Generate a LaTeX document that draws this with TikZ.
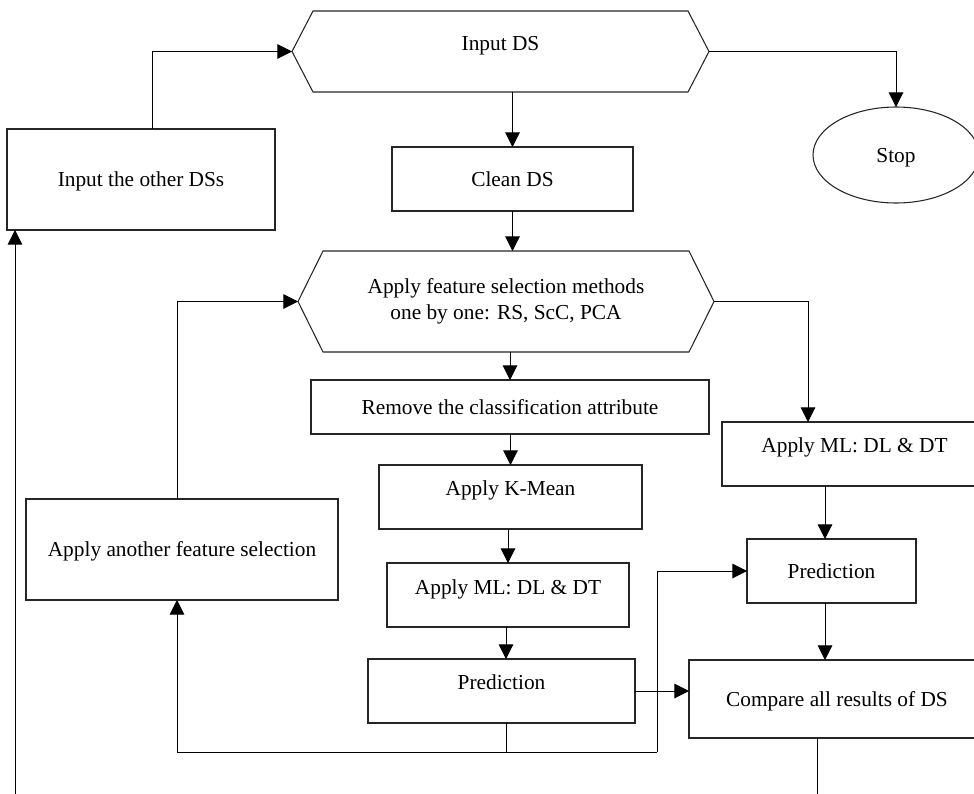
\documentclass[tikz,border=0pt]{standalone}
\usepackage{fontspec}
\setmainfont{Liberation Serif}
\usetikzlibrary{arrows.meta,shapes.geometric,calc}
\begin{document}
\begin{tikzpicture}[x=0.75pt,y=-0.75pt,
  every node/.style={font=\fontsize{16}{19.5}\selectfont, inner sep=0pt, outer sep=0pt},
  box/.style 2 args={draw=black!85, line width=0.8pt, minimum width=#1*0.75pt, minimum height=#2*0.75pt, text height=11pt, text depth=0pt},
  hexbox/.style 2 args={minimum width=#1*0.75pt, minimum height=#2*0.75pt},
  hexline/.style={draw=black!85, line width=0.8pt},
  arr/.style={line width=0.75pt, -{Triangle[length=11pt,width=11pt]}},
  conn/.style={line width=0.75pt},
]
\useasboundingbox (0,0) rectangle (974,793);
\clip (0,0) rectangle (974,793);

% nodes
\node[hexbox={417}{81}, text height=11pt, text depth=12.75pt] (inds) at (500.5,51.5) {Input DS};
\node[box={241}{64}] (clean) at (512.5,179) {Clean DS};
\node[box={268}{101}] (other) at (141,179.5) {Input the other DSs};
\node[ellipse, draw=black!85, line width=0.8pt, minimum width=124.5pt, minimum height=72pt, text height=11pt, text depth=0pt] (stop) at (896,155) {Stop};
\node[hexbox={416}{101}, align=center] (feat) at (506,301.5) {Apply feature selection methods\\one by one: RS, ScC, PCA};
\node[box={398}{54}] (remove) at (510,407) {Remove the classification attribute};
\node[box={263}{64}, text depth=13.5pt] (kmean) at (510.5,497) {Apply K-Mean};
\node[box={242}{64}, text depth=12pt] (ml1) at (508,595) {Apply ML: DL \& DT};
\node[box={267}{64}, text depth=13.5pt] (pred1) at (501.5,691) {Prediction};
\node[box={312}{101}] (another) at (182,549.5) {Apply another feature selection};
\node[box={265}{64}, text depth=13.5pt] (ml2) at (854.5,454) {Apply ML: DL \& DT};
\node[box={169}{64}] (pred2) at (831.5,571) {Prediction};
\node[box={296}{78}] (compare) at (837,699) {Compare all results of DS};

% hexagon outlines
\draw[hexline] (inds.west) -- ($(inds.north west)+(21,0)$) -- ($(inds.north east)+(-21,0)$) -- (inds.east)
  -- ($(inds.south east)+(-21,0)$) -- ($(inds.south west)+(21,0)$) -- cycle;
\draw[hexline] (feat.west) -- ($(feat.north west)+(25,0)$) -- ($(feat.north east)+(-25,0)$) -- (feat.east)
  -- ($(feat.south east)+(-25,0)$) -- ($(feat.south west)+(25,0)$) -- cycle;

% connectors
\draw[arr] ($(other.north)+(11,0)$) |- (inds.west);
\draw[arr] ($(another.north)+(-5,0)$) |- (feat.west);
\draw[arr] (clean.north |- inds.south) -- (clean.north);
\draw[arr] (clean.south) -- (clean.south |- feat.north);
\draw[arr] (remove.north |- feat.south) -- (remove.north);
\draw[arr] (kmean.north |- remove.south) -- (kmean.north);
\draw[arr] (ml1.north |- kmean.south) -- (ml1.north);
\draw[arr] ($(ml1.south)+(-2,0)$) -- ($(ml1.south |- pred1.north)+(-2,0)$);

\coordinate (jl) at (177,752);
\coordinate (jr) at (657,752);
\draw[conn] ($(pred1.south)+(4.5,0)$) -- ($(pred1.south |- jl)+(4.5,0)$);
\draw[conn] (jl) -- (jr);
\draw[arr] (jl) -- (jl |- another.south);
\draw[arr] (jr) |- (pred2.west);
\draw[arr] (pred1.east) -- (pred1.east -| compare.west);

\draw[arr] (feat.east) -| ($(ml2.north)+(-46.5,0)$);
\draw[arr] (inds.east) -| (stop.north);
\draw[arr] ($(pred2.north |- ml2.south)+(-6.5,0)$) -- ($(pred2.north)+(-6.5,0)$);
\draw[arr] ($(pred2.south)+(-6.5,0)$) -- ($(pred2.south |- compare.north)+(-6.5,0)$);

\coordinate (cb) at (817,800);
\draw[conn] (compare.south -| cb) -- (cb);
\coordinate (lb) at (15,800);
\draw[arr] (lb) -- (lb |- other.south);
\end{tikzpicture}
\end{document}
